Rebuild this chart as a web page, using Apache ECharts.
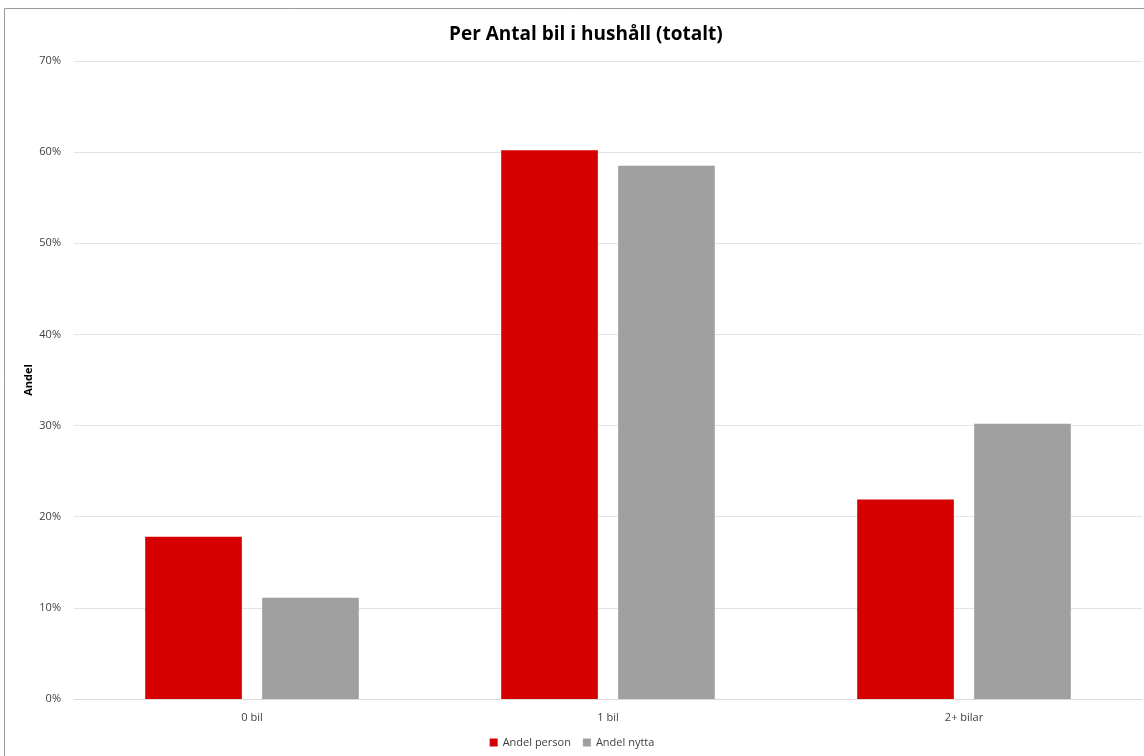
<!DOCTYPE html>
<html><head><meta charset="utf-8">
<script src="https://cdn.jsdelivr.net/npm/echarts@6/dist/echarts.min.js"></script>
<style>html,body{margin:0;padding:0;background:#fff}#c{width:1144px;height:756px}</style>
</head><body><div id="c"></div>
<script>
const categories = ["0 bil", "1 bil", "2+ bilar"];
const andelPerson = [17.8, 60.2, 21.9];
const andelNytta = [11.1, 58.5, 30.2];
const seriesNames = ["Andel person", "Andel nytta"];

const chart = echarts.init(document.getElementById('c'));
const font = "'Open Sans', 'Liberation Sans', sans-serif";
chart.setOption({
  animation: false,
  backgroundColor: '#fff',
  title: {
    text: 'Per Antal bil i hushåll (totalt)', left: 444, top: 20,
    textStyle: {fontFamily: font, fontSize: 19, fontWeight: 'bold', color: '#000'}
  },
  graphic: [
    {type: 'line', shape: {x1: 4.5, y1: 8.5, x2: 1144, y2: 8.5}, style: {stroke: '#999', lineWidth: 1}},
    {type: 'line', shape: {x1: 4.5, y1: 8.5, x2: 4.5, y2: 756}, style: {stroke: '#999', lineWidth: 1}}
  ],
  legend: {
    bottom: 3, left: 'center', itemWidth: 8, itemHeight: 8, itemGap: 12,
    icon: 'rect',
    textStyle: {fontFamily: font, fontSize: 11, color: '#404040'},
    data: seriesNames
  },
  grid: {left: 74, right: 2, top: 61, bottom: 57},
  xAxis: {
    type: 'category', data: categories,
    axisLine: {lineStyle: {color: '#d9d9d9'}},
    axisTick: {show: false},
    axisLabel: {fontFamily: font, fontSize: 11, color: '#404040', margin: 13}
  },
  yAxis: {
    type: 'value', min: 0, max: 70, interval: 10,
    name: 'Andel', nameLocation: 'middle', nameGap: 40, nameRotate: 90, nameMoveOverlap: false,
    nameTextStyle: {fontFamily: font, fontSize: 11, fontWeight: 'bold', color: '#000'},
    axisLabel: {formatter: '{value}%', fontFamily: font, fontSize: 11, color: '#404040', margin: 13},
    splitLine: {lineStyle: {color: '#e3e3e3'}},
    axisLine: {show: false}, axisTick: {show: false}
  },
  series: [
    {name: seriesNames[0], type: 'bar', data: andelPerson, barGap: '21%', barCategoryGap: '40%',
     itemStyle: {color: '#d60000'}},
    {name: seriesNames[1], type: 'bar', data: andelNytta,
     itemStyle: {color: '#a0a0a0'}}
  ]
});
</script></body></html>
